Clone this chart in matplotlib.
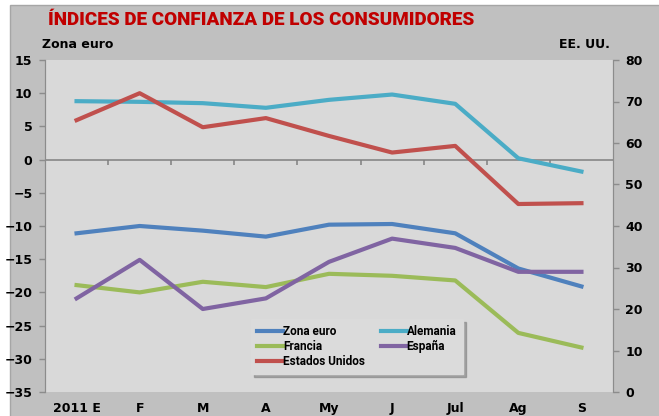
import numpy as np
import matplotlib.pyplot as plt
from matplotlib.patches import Rectangle

# Data
meses = ["2011 E", "F", "M", "A", "My", "J", "Jul", "Ag", "S"]
zona_euro = [-11.1, -10.0, -10.7, -11.6, -9.8, -9.7, -11.1, -16.4, -19.1]
alemania = [8.8, 8.7, 8.5, 7.8, 9.0, 9.8, 8.4, 0.2, -1.8]
francia = [-18.9, -20.0, -18.4, -19.2, -17.2, -17.5, -18.2, -26.1, -28.3]
espana = [-20.9, -15.1, -22.5, -20.9, -15.4, -11.9, -13.3, -16.9, -16.9]
eeuu = [65.5, 72.0, 63.8, 66.0, 61.7, 57.7, 59.3, 45.3, 45.5]

W, H = 659, 416
fig = plt.figure(figsize=(W / 100, H / 100), dpi=100)
fig.patch.set_facecolor("white")

# grey chart area with thin border
fig.patches.append(Rectangle((10 / W, -0.01), 1.0, 1 - 5 / H + 0.01, transform=fig.transFigure,
                             facecolor="#c0c0c0", edgecolor="#a6a6a6", lw=1, zorder=-5))

ax = fig.add_axes([45 / W, 1 - 392 / H, (613 - 45) / W, (392 - 60) / H])
ax.set_facecolor("#d9d9d9")
ax2 = ax.twinx()

x = np.arange(len(meses))
lw = 3.0
l1, = ax.plot(x, zona_euro, color="#4F81BD", lw=lw, label="Zona euro", zorder=3)
l2, = ax.plot(x, alemania, color="#4BACC6", lw=lw, label="Alemania", zorder=3)
l3, = ax.plot(x, francia, color="#9BBB59", lw=lw, label="Francia", zorder=3)
l4, = ax.plot(x, espana, color="#8064A2", lw=lw, label="España", zorder=3)
l5, = ax2.plot(x, eeuu, color="#C0504D", lw=lw, label="Estados Unidos")

ax.set_xlim(-0.5, len(meses) - 0.5)
ax.set_ylim(-35, 15)
ax.set_yticks(np.arange(-35, 16, 5))
ax2.set_ylim(0, 80)
ax2.set_yticks(np.arange(0, 81, 10))

ax.set_xticks(x)
ax.set_xticklabels(meses, fontsize=9, fontweight="bold")
ax.tick_params(axis="x", length=0, pad=7)
ax.tick_params(axis="y", length=4, width=1, color="#8c8c8c", pad=5)
ax2.tick_params(axis="y", length=4, width=1, color="#8c8c8c", pad=5)
for lab in ax.get_yticklabels() + ax2.get_yticklabels():
    lab.set_fontsize(9)
    lab.set_fontweight("bold")

for a in (ax, ax2):
    a.spines["top"].set_visible(False)
    a.spines["bottom"].set_visible(False)
    a.spines["left"].set_color("#8c8c8c")
    a.spines["right"].set_color("#8c8c8c")

# category axis crossing at 0, with tick marks between categories
ax.axhline(0, color="#808080", lw=1.1, zorder=2)
ax.vlines(x[:-1] + 0.5, -0.8, 0, color="#808080", lw=1.1, zorder=2)

# titles
fig.text(48 / W, 1 - 20 / H, "ÍNDICES DE CONFIANZA DE LOS CONSUMIDORES", color="#C00000",
         fontsize=13.6, fontweight="heavy", family=["Roboto", "DejaVu Sans"], va="center")
fig.text(42 / W, 1 - 45 / H, "Zona euro", fontsize=9, fontweight="bold", va="center")
fig.text(610 / W, 1 - 45 / H, "EE. UU.", fontsize=9, fontweight="bold", va="center", ha="right")

leg = ax.legend([l1, l3, l5, l2, l4], ["Zona euro", "Francia", "Estados Unidos", "Alemania", "España"],
                ncol=2, loc="lower left", bbox_to_anchor=(0.352, 0.035), frameon=True,
                shadow={"color": "0.5", "alpha": 0.6}, fancybox=False,
                handlelength=2.2, handletextpad=0.0, columnspacing=1.3,
                labelspacing=0.15, borderpad=0.55,
                prop=dict(size=8.5, weight="bold", family=["Roboto", "DejaVu Sans"]))
leg.get_frame().set_facecolor("#dbdbdb")
leg.get_frame().set_edgecolor("#dbdbdb")
leg.remove()
ax2.add_artist(leg)

fig.savefig("out.png", dpi=100)
